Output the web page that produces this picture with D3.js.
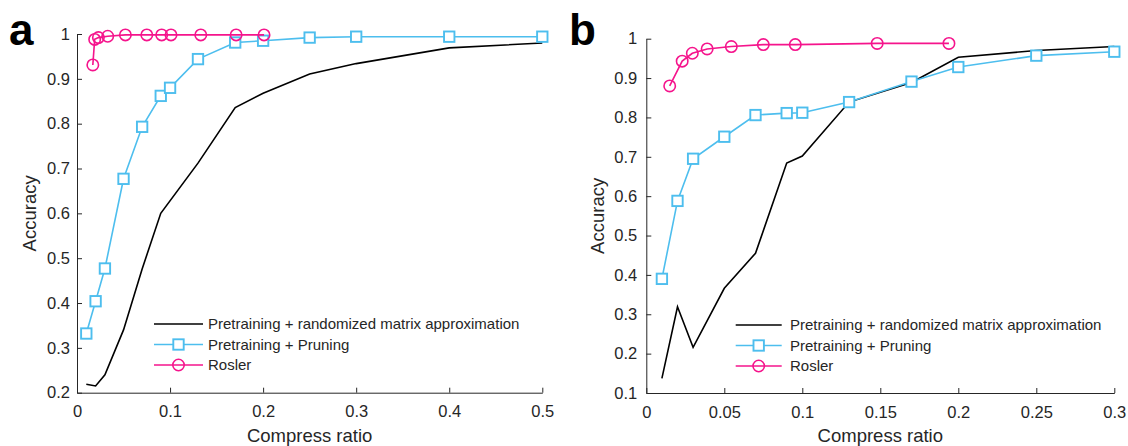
<!DOCTYPE html>
<html lang="en">
<head>
    <meta charset="UTF-8">
    <title>Compress ratio vs Accuracy</title>
    <script src="https://d3js.org/d3.v7.min.js"></script>
    <style>
        body { margin: 0; background: #fff; }
        svg { display: block; font-family: "Liberation Sans", Arial, sans-serif; }
    </style>
</head>
<body>
    <svg width="1128" height="446"></svg>
    <script>
        // panel a data
        const aRatioRand = [0.01, 0.02, 0.03, 0.05, 0.07, 0.09, 0.13, 0.17, 0.2, 0.25, 0.3, 0.4, 0.5];
        const aAccRand = [0.219, 0.215, 0.240, 0.340, 0.476, 0.600, 0.712, 0.836, 0.868, 0.911, 0.934, 0.969, 0.980];
        const aRatioPrune = [0.01, 0.02, 0.03, 0.05, 0.07, 0.09, 0.1, 0.13, 0.17, 0.2, 0.25, 0.3, 0.4, 0.5];
        const aAccPrune = [0.332, 0.404, 0.477, 0.677, 0.793, 0.862, 0.880, 0.944, 0.981, 0.985, 0.992, 0.994, 0.994, 0.994];
        const aRatioRosler = [0.017, 0.019, 0.023, 0.033, 0.052, 0.075, 0.091, 0.101, 0.133, 0.171, 0.201];
        const aAccRosler = [0.931, 0.988, 0.992, 0.995, 0.998, 0.998, 0.998, 0.998, 0.998, 0.998, 0.998];

        // panel b data
        const bRatioRand = [0.01, 0.02, 0.03, 0.05, 0.07, 0.09, 0.1, 0.13, 0.17, 0.2, 0.25, 0.3];
        const bAccRand = [0.137, 0.319, 0.216, 0.366, 0.455, 0.684, 0.702, 0.839, 0.889, 0.953, 0.970, 0.980];
        const bRatioPrune = [0.01, 0.02, 0.03, 0.05, 0.07, 0.09, 0.1, 0.13, 0.17, 0.2, 0.25, 0.3];
        const bAccPrune = [0.390, 0.588, 0.695, 0.751, 0.806, 0.811, 0.812, 0.839, 0.891, 0.928, 0.957, 0.967];
        const bRatioRosler = [0.015, 0.023, 0.0295, 0.039, 0.0545, 0.075, 0.0955, 0.148, 0.194];
        const bAccRosler = [0.880, 0.943, 0.963, 0.974, 0.980, 0.985, 0.985, 0.988, 0.988];

        // ticks
        const aXTicks = [0, 0.1, 0.2, 0.3, 0.4, 0.5];
        const aYTicks = [0.2, 0.3, 0.4, 0.5, 0.6, 0.7, 0.8, 0.9, 1];
        const bXTicks = [0, 0.05, 0.1, 0.15, 0.2, 0.25, 0.3];
        const bYTicks = [0.1, 0.2, 0.3, 0.4, 0.5, 0.6, 0.7, 0.8, 0.9, 1];

        const seriesNames = ["Pretraining + randomized matrix approximation", "Pretraining + Pruning", "Rosler"];

        const axisColor = "#262626";
        const blue = "#4dbeee";
        const pink = "#f5148c";
        const sq = 10.4;   // square marker size
        const cr = 5.7;    // circle marker radius

        const svg = d3.select("svg");

        function zip(xs, ys) {
            return xs.map((x, i) => ({ x: x, y: ys[i] }));
        }

        function drawPanel(p) {
            const x = d3.scaleLinear().domain(p.xDomain).range([p.left, p.right]);
            const y = d3.scaleLinear().domain(p.yDomain).range([p.bottom, p.top]);
            const g = svg.append("g");

            // axes (ticks pointing inward)
            const xAxis = g.append("g")
                .attr("transform", `translate(0,${p.bottom})`)
                .call(d3.axisBottom(x).tickValues(p.xTicks).tickSizeInner(-5).tickSizeOuter(0)
                    .tickPadding(13).tickFormat(d => String(+d.toFixed(2))));
            const yAxis = g.append("g")
                .attr("transform", `translate(${p.left},0)`)
                .call(d3.axisLeft(y).tickValues(p.yTicks).tickSizeInner(-5).tickSizeOuter(0)
                    .tickPadding(p.yPad).tickFormat(d => String(+d.toFixed(2))));
            [xAxis, yAxis].forEach(ax => {
                ax.select(".domain").attr("stroke", axisColor).attr("stroke-width", 1);
                ax.selectAll(".tick line").attr("stroke", axisColor);
                ax.selectAll(".tick text").attr("fill", axisColor)
                    .style("font-size", "16.5px").style("font-family", "Liberation Sans, Arial, sans-serif");
            });

            g.append("text")
                .attr("x", (p.left + p.right) / 2)
                .attr("y", 441.5)
                .attr("text-anchor", "middle")
                .attr("fill", axisColor)
                .style("font-size", "18.5px")
                .text("Compress ratio");

            g.append("text")
                .attr("transform", `translate(${p.yLabelX},${(p.top + p.bottom) / 2}) rotate(-90)`)
                .attr("text-anchor", "middle")
                .attr("fill", axisColor)
                .style("font-size", "18.5px")
                .text("Accuracy");

            g.append("text")
                .attr("x", p.letterX)
                .attr("y", 45)
                .attr("fill", "#000")
                .style("font-size", "44px")
                .style("font-weight", "bold")
                .text(p.letter);

            const line = d3.line().x(d => x(d.x)).y(d => y(d.y));

            const rand = zip(p.rand[0], p.rand[1]);
            const prune = zip(p.prune[0], p.prune[1]);
            const rosler = zip(p.rosler[0], p.rosler[1]);

            g.append("path").datum(rand).attr("d", line)
                .attr("fill", "none").attr("stroke", "#000").attr("stroke-width", 1.6);

            g.append("path").datum(prune).attr("d", line)
                .attr("fill", "none").attr("stroke", blue).attr("stroke-width", 1.6);
            g.selectAll(".sq").data(prune).enter().append("rect")
                .attr("x", d => x(d.x) - sq / 2).attr("y", d => y(d.y) - sq / 2)
                .attr("width", sq).attr("height", sq)
                .attr("fill", "#fff").attr("stroke", blue).attr("stroke-width", 1.9);

            g.append("path").datum(rosler).attr("d", line)
                .attr("fill", "none").attr("stroke", pink).attr("stroke-width", 1.6);
            g.selectAll(".ci").data(rosler).enter().append("circle")
                .attr("cx", d => x(d.x)).attr("cy", d => y(d.y)).attr("r", cr)
                .attr("fill", "none").attr("stroke", pink).attr("stroke-width", 1.6);

            // legend
            const lg = g.append("g");
            const rowY = [p.legY, p.legY + 20.5, p.legY + 41];
            const cols = ["#000", blue, pink];
            rowY.forEach((ry, i) => {
                lg.append("line")
                    .attr("x1", p.legX1).attr("x2", p.legX2).attr("y1", ry).attr("y2", ry)
                    .attr("stroke", cols[i]).attr("stroke-width", 1.6);
                const mx = (p.legX1 + p.legX2) / 2;
                if (i === 1) {
                    lg.append("rect").attr("x", mx - sq / 2).attr("y", ry - sq / 2)
                        .attr("width", sq).attr("height", sq)
                        .attr("fill", "#fff").attr("stroke", blue).attr("stroke-width", 1.9);
                } else if (i === 2) {
                    lg.append("circle").attr("cx", mx).attr("cy", ry).attr("r", cr)
                        .attr("fill", "none").attr("stroke", pink).attr("stroke-width", 1.6);
                }
                lg.append("text")
                    .attr("x", p.legText).attr("y", ry).attr("dy", "0.35em")
                    .attr("fill", axisColor)
                    .style("font-size", "15px")
                    .text(seriesNames[i]);
            });
        }

        drawPanel({
            letter: "a", letterX: 9,
            left: 77, right: 542.3, top: 34, bottom: 392.7,
            xDomain: [0, 0.5], yDomain: [0.2, 1],
            xTicks: aXTicks, yTicks: aYTicks, yPad: 7, yLabelX: 35.5,
            rand: [aRatioRand, aAccRand],
            prune: [aRatioPrune, aAccPrune],
            rosler: [aRatioRosler, aAccRosler],
            legX1: 154, legX2: 203, legText: 208, legY: 324
        });

        drawPanel({
            letter: "b", letterX: 569,
            left: 646.3, right: 1114.3, top: 38.7, bottom: 393,
            xDomain: [0, 0.3], yDomain: [0.1, 1],
            xTicks: bXTicks, yTicks: bYTicks, yPad: 9, yLabelX: 604,
            rand: [bRatioRand, bAccRand],
            prune: [bRatioPrune, bAccPrune],
            rosler: [bRatioRosler, bAccRosler],
            legX1: 735.7, legX2: 781.7, legText: 790, legY: 325
        });
    </script>
</body>
</html>
